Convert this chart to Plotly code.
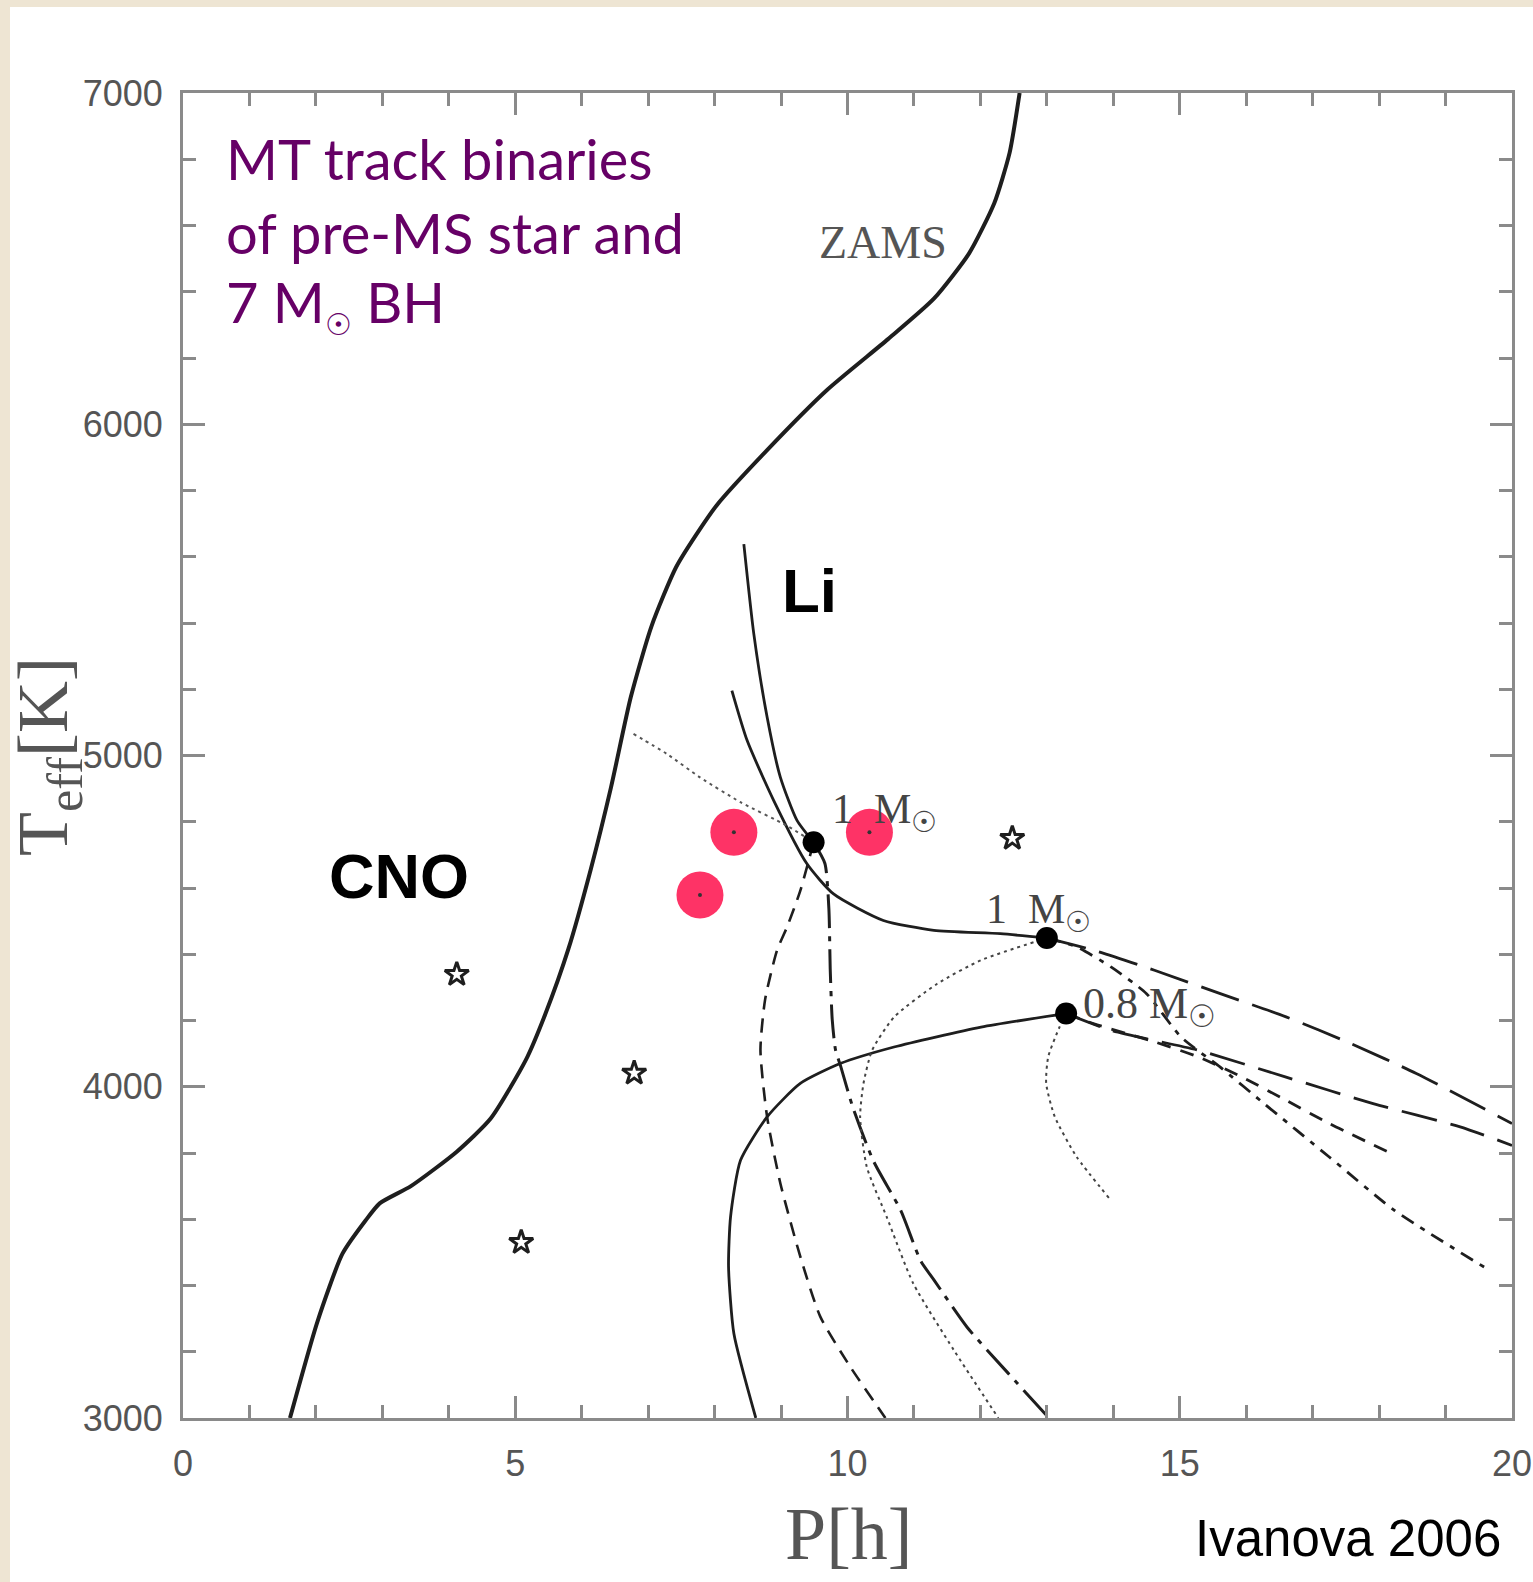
import plotly.graph_objects as go

# ---------------- data (P in hours, Teff in K) ----------------
zams_p = [12.59, 12.44, 12.21, 11.83, 11.30, 10.61, 9.70, 8.79, 8.03, 7.43, 7.05, 6.74, 6.44, 6.14,
          5.80, 5.45, 5.16, 4.63, 4.12, 3.43, 2.96, 2.75, 2.40, 2.02, 1.61]
zams_t = [7000, 6820, 6668, 6516, 6379, 6257, 6105, 5922, 5755, 5572, 5390, 5177, 4903, 4659,
          4416, 4218, 4081, 3904, 3804, 3700, 3648, 3597, 3496, 3289, 3000]

li_track_p = [8.44, 8.59, 8.79, 8.99, 9.24, 9.49]
li_track_t = [5638, 5367, 5116, 4934, 4804, 4738]

one_track_p = [8.26, 8.49, 8.89, 9.39, 9.79, 10.54, 11.30, 12.30, 13.00]
one_track_t = [5196, 5045, 4864, 4673, 4582, 4502, 4472, 4462, 4449]

p08_track_p = [13.29, 12.01, 10.70, 9.89, 9.29, 8.79, 8.39, 8.24, 8.21, 8.29, 8.62]
p08_track_t = [4221, 4180, 4120, 4070, 4010, 3909, 3778, 3607, 3456, 3255, 3000]

zams_to_li_p = [6.78, 7.28, 7.78, 8.39, 9.09, 9.49]
zams_to_li_t = [5065, 5005, 4934, 4859, 4788, 4738]

li_dash_p = [9.49, 9.29, 9.09, 8.94, 8.76, 8.69, 8.79, 8.99, 9.29, 9.59, 10.04, 10.57]
li_dash_t = [4738, 4592, 4482, 4412, 4263, 4111, 3909, 3708, 3487, 3306, 3155, 3000]

li_long_p = [9.49, 9.66, 9.72, 9.74, 9.77, 9.82, 9.90, 10.08, 10.39, 10.80, 11.10, 11.30, 11.80, 12.41, 13.03]
li_long_t = [4738, 4674, 4537, 4355, 4203, 4111, 4060, 3938, 3776, 3627, 3475, 3417, 3274, 3137, 3000]

one_dot_p = [13.00, 12.01, 11.35, 10.70, 10.37, 10.24, 10.19, 10.29, 10.59, 10.99, 11.60, 12.27]
one_dot_t = [4449, 4382, 4311, 4210, 4110, 4009, 3909, 3758, 3607, 3406, 3205, 3000]

one_long_p = [13.00, 13.71, 14.63, 15.61, 16.60, 17.58, 18.56, 20.00]
one_long_t = [4449, 4412, 4351, 4281, 4211, 4130, 4040, 3889]

one_dashdot_p = [13.00, 13.45, 13.97, 14.50, 15.02, 15.61, 16.27, 17.25, 18.23, 19.61]
one_dashdot_t = [4449, 4422, 4361, 4281, 4150, 4059, 3949, 3788, 3627, 3452]

p08_long_p = [13.29, 13.97, 15.28, 16.60, 17.91, 19.22, 20.00]
p08_long_t = [4221, 4170, 4110, 4029, 3949, 3879, 3823]

p08_dash_p = [13.29, 13.71, 14.63, 15.28, 15.94, 16.60, 17.25, 18.14]
p08_dash_t = [4221, 4190, 4135, 4090, 4029, 3959, 3889, 3803]

p08_dot_p = [13.29, 13.19, 13.02, 12.99, 13.12, 13.45, 13.94]
p08_dot_t = [4221, 4180, 4090, 4010, 3909, 3788, 3663]

dots_p = [9.49, 13.00, 13.29]
dots_t = [4738, 4449, 4221]

stars_p = [4.12, 6.79, 5.09, 12.48]
stars_t = [4339, 4041, 3530, 4750]

obs_p = [8.29, 10.33, 7.78]
obs_t = [4768, 4768, 4579]

x_range = [0, 20]
y_range = [3000, 7000]

# ---------------- layout geometry ----------------
W, H = 1533, 1582
L, R, T, B = 183, 1512, 93, 1418

def fx(px):
    return (px - L) / (R - L)

def fy(py):
    return (B - py) / (B - T)

INK = "#1e1e1e"
fig = go.Figure()

def line(xs, ys, width, dash, color=INK):
    fig.add_trace(go.Scatter(x=xs, y=ys, mode="lines", line=dict(color=color, width=width, dash=dash,
                             shape="spline", smoothing=0.6), hoverinfo="skip", showlegend=False))

line(zams_p, zams_t, 4, "solid")
line(li_track_p, li_track_t, 2.8, "solid")
line(one_track_p, one_track_t, 2.8, "solid")
line(p08_track_p, p08_track_t, 2.8, "solid")
line(zams_to_li_p, zams_to_li_t, 2, "3px,4px", "#555")
line(li_dash_p, li_dash_t, 2.6, "14px,9px")
line(li_long_p, li_long_t, 3, "34px,8px,5px,8px")
line(one_dot_p, one_dot_t, 2, "3px,4px", "#444")
line(one_long_p, one_long_t, 2.8, "40px,14px")
line(one_dashdot_p, one_dashdot_t, 2.8, "14px,8px,5px,8px")
line(p08_long_p, p08_long_t, 2.8, "36px,14px")
line(p08_dash_p, p08_dash_t, 2.8, "14px,10px")
line(p08_dot_p, p08_dot_t, 2, "3px,4px", "#444")

fig.add_trace(go.Scatter(x=stars_p, y=stars_t, mode="markers",
                         marker=dict(symbol="star-open", size=18, color=INK, line=dict(width=3, color=INK)),
                         hoverinfo="skip", showlegend=False))
fig.add_trace(go.Scatter(x=dots_p, y=dots_t, mode="markers",
                         marker=dict(symbol="circle", size=22, color="#000000"),
                         hoverinfo="skip", showlegend=False))
fig.add_trace(go.Scatter(x=obs_p, y=obs_t, mode="markers",
                         marker=dict(symbol="circle", size=47, color="#fe3366", line=dict(width=0)),
                         hoverinfo="skip", showlegend=False))
fig.add_trace(go.Scatter(x=obs_p, y=obs_t, mode="markers",
                         marker=dict(symbol="circle", size=4, color="#333333", line=dict(width=0)),
                         hoverinfo="skip", showlegend=False))

AX = "#8a8a8a"
TICKFONT = dict(family="Liberation Sans, Arial, sans-serif", size=36, color="#555555")
common = dict(showgrid=False, zeroline=False, showline=True, linecolor=AX, linewidth=3, mirror="allticks",
              ticks="inside", tickcolor=AX, tickwidth=2.5, ticklen=22, tickfont=TICKFONT,
              layer="above traces", automargin=False, ticklabeloverflow="allow")
fig.update_xaxes(range=x_range, tick0=0, dtick=5, ticklabelstandoff=12,
                 minor=dict(dtick=1, ticks="inside", ticklen=13, tickcolor=AX, tickwidth=2.5), **common)
fig.update_yaxes(range=y_range, tick0=3000, dtick=1000, ticklabelstandoff=10,
                 minor=dict(dtick=200, ticks="inside", ticklen=13, tickcolor=AX, tickwidth=2.5), **common)

SERIF = "Liberation Serif, Times New Roman, serif"
SANS = "Liberation Sans, Arial, sans-serif"
ann = []
def text(s, px, py, size, color, family, xanchor="center", yanchor="middle", angle=0):
    ann.append(dict(text=s, x=fx(px), y=fy(py), xref="paper", yref="paper", showarrow=False,
                    font=dict(size=size, color=color, family=family), xanchor=xanchor, yanchor=yanchor,
                    textangle=angle))

PURPLE = "#660066"
HAND = "Comic Sans MS, Lato, sans-serif"
SUN_SMALL = "<span style='font-size:30px'>☉</span>"
text("MT track binaries", 224, 158, 56, PURPLE, HAND, xanchor="left")
text("of pre-MS star and", 224, 232, 56, PURPLE, HAND, xanchor="left")
text("7 M" + "<sub>" + SUN_SMALL + "</sub> BH", 224, 304, 56, PURPLE, HAND, xanchor="left")

text("ZAMS", 883, 243, 46, "#555555", SERIF)
text("<b>Li</b>", 809, 590, 62, "#000000", SANS)
text("<b>CNO</b>", 399, 876, 63, "#000000", SANS)
text("1  M<sub>☉</sub>", 884, 812, 42, "#444444", SERIF)
text("1  M<sub>☉</sub>", 1038, 912, 42, "#444444", SERIF)
text("0.8 M<sub>☉</sub>", 1149, 1006, 44, "#444444", SERIF)

text("P[h]", 848, 1534, 74, "#555555", SERIF)
text("T<sub>eff</sub>[K]", 48, 757, 72, "#555555", SERIF, angle=-90)
text("Ivanova 2006", 1348, 1538, 51, "#000000", SANS)

shapes = [dict(type="rect", xref="paper", yref="paper", x0=fx(10), x1=fx(W + 5), y0=fy(H + 5), y1=fy(7),
               fillcolor="white", line=dict(width=0), layer="below")]

fig.update_layout(width=W, height=H, margin=dict(l=L, r=W - R, t=T, b=H - B, autoexpand=False),
                  paper_bgcolor="#eee5d3", plot_bgcolor="white", annotations=ann, shapes=shapes,
                  showlegend=False)

fig.write_html("out.html")
